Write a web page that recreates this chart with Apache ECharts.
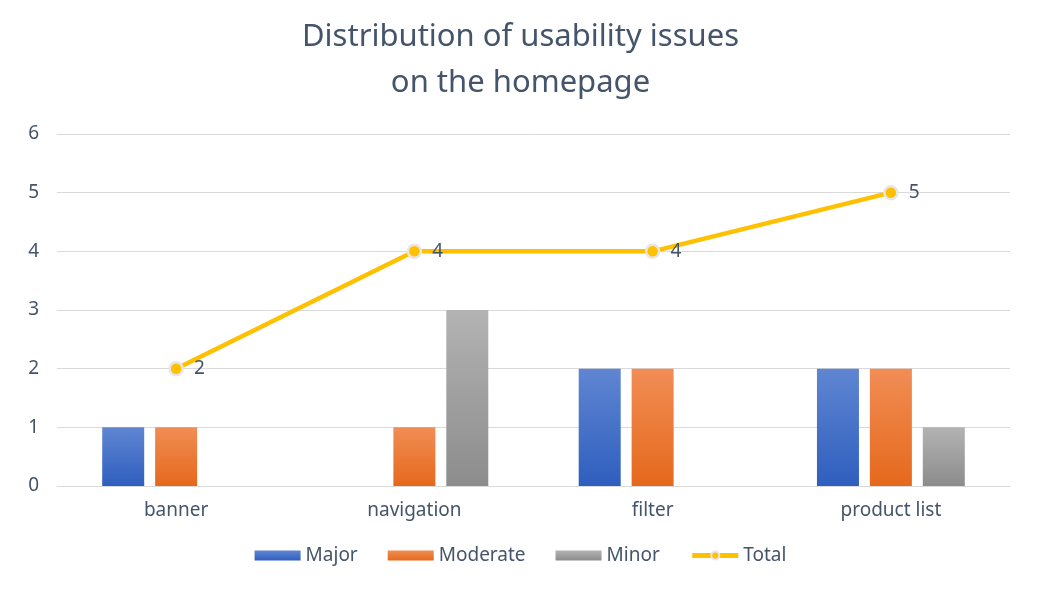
<!DOCTYPE html>
<html><head><meta charset="utf-8">
<script src="https://cdn.jsdelivr.net/npm/echarts@6/dist/echarts.min.js"></script>
<style>html,body{margin:0;padding:0;background:#fff}#c{width:1041px;height:596px}</style>
</head><body><div id="c"></div>
<script>
const categories = ['banner', 'navigation', 'filter', 'product list'];
const major = [1, 0, 2, 2];
const moderate = [1, 1, 2, 2];
const minor = [0, 3, 0, 1];
const total = [2, 4, 4, 5];
const yTicks = [0, 1, 2, 3, 4, 5, 6];

const txt = '#44546A';
const font = '"Noto Sans", "Open Sans", sans-serif';
function grad(top, bottom) {
  return new echarts.graphic.LinearGradient(0, 0, 0, 1, [
    { offset: 0, color: top }, { offset: 1, color: bottom }]);
}
const chart = echarts.init(document.getElementById('c'));
chart.setOption({
  backgroundColor: '#fff',
  textStyle: { fontFamily: font },
  title: {
    text: 'Distribution of usability issues\non the homepage',
    left: 'center', top: 9,
    textStyle: { color: txt, fontSize: 31, fontWeight: 'normal', lineHeight: 46, fontFamily: font }
  },
  grid: { left: 57, right: 31, top: 134, bottom: 110, containLabel: false },
  legend: {
    bottom: 26, left: 'center', itemGap: 30, itemWidth: 46, itemHeight: 10,
    textStyle: { color: txt, fontSize: 19, fontFamily: font },
    lineStyle: { width: 5 },
    data: [
      { name: 'Major', icon: 'rect' },
      { name: 'Moderate', icon: 'rect' },
      { name: 'Minor', icon: 'rect' },
      { name: 'Total' }
    ]
  },
  xAxis: {
    type: 'category', data: categories,
    axisLine: { show: true, lineStyle: { color: '#d9d9d9', width: 1 } },
    axisTick: { show: false },
    axisLabel: { color: txt, fontSize: 19, margin: 15, fontFamily: font }
  },
  yAxis: {
    type: 'value', min: yTicks[0], max: yTicks[yTicks.length - 1], interval: 1,
    axisLine: { show: false }, axisTick: { show: false },
    splitLine: { lineStyle: { color: '#d9d9d9', width: 1 } },
    axisLabel: { color: txt, fontSize: 19, margin: 18, fontFamily: font }
  },
  series: [
    { name: 'Major', type: 'bar', data: major, barWidth: 42, barGap: '26%',
      itemStyle: { color: grad('#6086D2', '#2E5EBE') } },
    { name: 'Moderate', type: 'bar', data: moderate, barWidth: 42, barGap: '26%',
      itemStyle: { color: grad('#F18D55', '#E5691C') } },
    { name: 'Minor', type: 'bar', data: minor, barWidth: 42, barGap: '26%',
      itemStyle: { color: grad('#B3B3B3', '#8C8C8C') } },
    { name: 'Total', type: 'line', data: total, symbol: 'circle', symbolSize: 13,
      lineStyle: { color: '#FFC000', width: 4.5 },
      itemStyle: { color: '#FFC000', borderColor: '#E7E6E6', borderWidth: 2.5 },
      label: { show: true, position: 'right', distance: 10, color: txt, fontSize: 19, fontFamily: font } }
  ]
});
</script></body></html>
